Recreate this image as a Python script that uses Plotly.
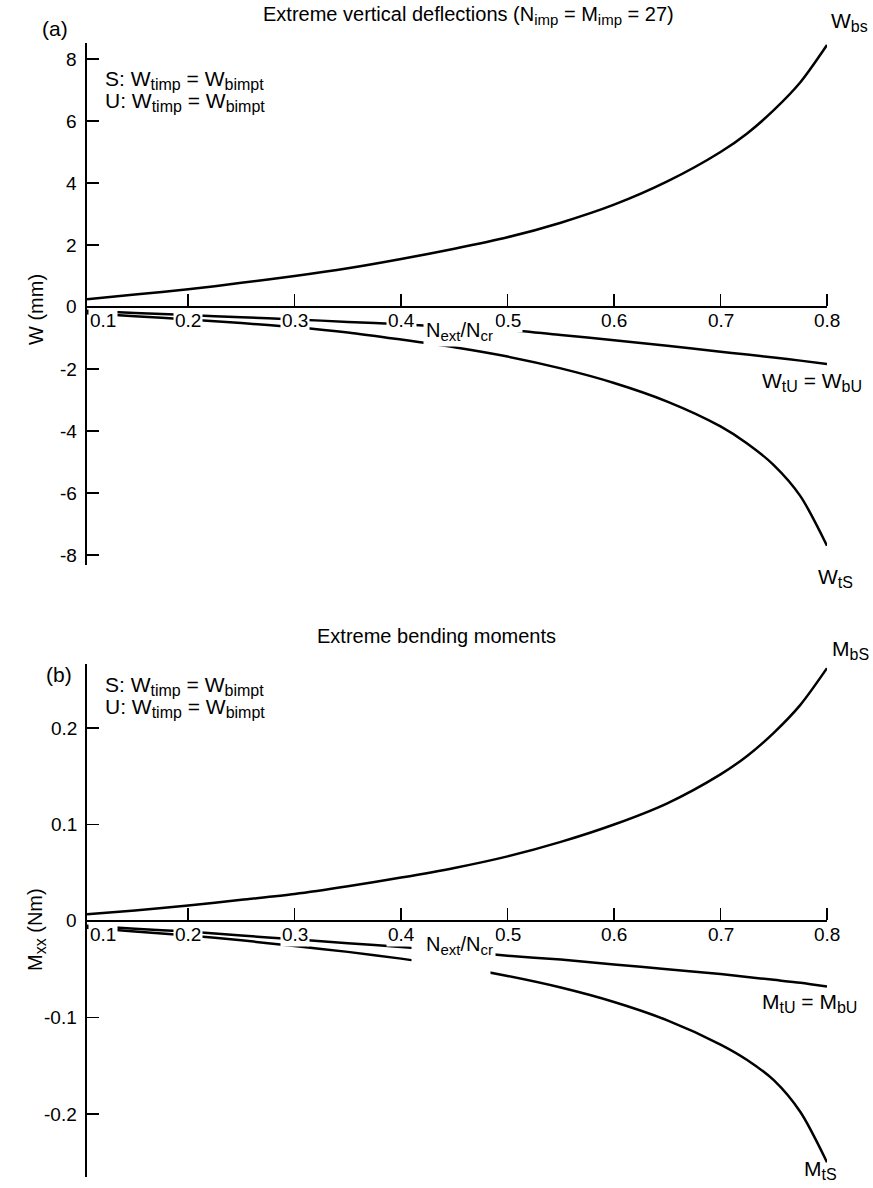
import plotly.graph_objects as go

W, H = 873, 1188

# ---------------- data ----------------
n_ratio = [0.105, 0.15, 0.2, 0.25, 0.3, 0.35, 0.4, 0.45, 0.5, 0.55, 0.6, 0.65, 0.7, 0.725, 0.75, 0.775, 0.8]

w_bS = [0.25, 0.40, 0.57, 0.78, 1.0, 1.25, 1.55, 1.88, 2.25, 2.72, 3.3, 4.05, 5.0, 5.6, 6.35, 7.25, 8.45]
w_tS = [-0.2, -0.3, -0.4, -0.52, -0.65, -0.82, -1.05, -1.3, -1.6, -1.98, -2.45, -3.05, -3.85, -4.4, -5.1, -6.1, -7.7]
w_tU = [-0.12, -0.19, -0.26, -0.33, -0.4, -0.48, -0.56, -0.65, -0.74, -0.9, -1.07, -1.25, -1.44, -1.535, -1.63, -1.73, -1.84]

m_bS = [0.007, 0.011, 0.016, 0.022, 0.028, 0.036, 0.045, 0.055, 0.067, 0.082, 0.100, 0.122, 0.152, 0.171, 0.195, 0.224, 0.262]
m_tU = [-0.005, -0.008, -0.011, -0.015, -0.019, -0.023, -0.027, -0.031, -0.036, -0.040, -0.045, -0.050, -0.055, -0.058, -0.061, -0.064, -0.068]
m_tS = [-0.007, -0.011, -0.015, -0.02, -0.026, -0.032, -0.039, -0.047, -0.057, -0.069, -0.084, -0.103, -0.128, -0.144, -0.165, -0.198, -0.25]

x_ticks = [0.1, 0.2, 0.3, 0.4, 0.5, 0.6, 0.7, 0.8]
x_ticktext = ["0.1", "0.2", "0.3", "0.4", "0.5", "0.6", "0.7", "0.8"]
wa_ticks = [-8, -6, -4, -2, 0, 2, 4, 6, 8]
wa_ticktext = ["-8", "-6", "-4", "-2", "0", "2", "4", "6", "8"]
mb_ticks = [-0.2, -0.1, 0, 0.1, 0.2]
mb_ticktext = ["-0.2", "-0.1", "0", "0.1", "0.2"]

FONT = "Liberation Sans, Arial, Helvetica, sans-serif"
FS = 19


def px(x):
    return x / W


def py(y):
    return 1 - y / H


def sub(t, size):
    return '<sub><span style="font-size:%dpx">%s</span></sub>' % (size, t)


fig = go.Figure()
line = dict(color="black", width=2.5, shape="spline", smoothing=0.8)
for ys in (w_bS, w_tS, w_tU):
    fig.add_trace(go.Scatter(x=n_ratio, y=ys, mode="lines", line=line,
                             xaxis="x", yaxis="y", showlegend=False, hoverinfo="skip"))
for ys in (m_bS, m_tU, m_tS):
    fig.add_trace(go.Scatter(x=n_ratio, y=ys, mode="lines", line=line,
                             xaxis="x2", yaxis="y2", showlegend=False, hoverinfo="skip"))

# axis geometry (pixels)
x_left, x_right = 87, 827
a_top, a_bot, a_zero, a_scale = 43, 565, 307, 31.0     # px per unit
b_top, b_bot, b_zero, b_scale = 664, 1177, 921, 965.0  # px per unit

xr = [0.105, 0.8]
common_x = dict(range=xr, domain=[px(x_left), px(x_right)], anchor="free", side="top",
                showline=True, linecolor="black", linewidth=2,
                ticks="outside", ticklen=12, tickwidth=1.5, tickcolor="black",
                tickvals=x_ticks[1:], showticklabels=False,
                showgrid=False, zeroline=False, fixedrange=True)
common_y = dict(showline=True, linecolor="black", linewidth=2,
                ticks="inside", ticklen=12, tickwidth=1.5, tickcolor="black",
                showgrid=False, zeroline=False, fixedrange=True,
                showticklabels=False)

fig.update_layout(
    width=W, height=H,
    margin=dict(l=0, r=0, t=0, b=0),
    paper_bgcolor="white", plot_bgcolor="rgba(0,0,0,0)",
    font=dict(family=FONT, size=FS, color="black"),
    xaxis=dict(**common_x, position=py(a_zero)),
    yaxis=dict(**common_y, anchor="x",
               domain=[py(a_bot), py(a_top)],
               range=[(a_zero - a_bot) / a_scale, (a_zero - a_top) / a_scale],
               tickvals=wa_ticks),
    xaxis2=dict(**common_x, position=py(b_zero)),
    yaxis2=dict(**common_y, anchor="x2",
                domain=[py(b_bot), py(b_top)],
                range=[(b_zero - b_bot) / b_scale, (b_zero - b_top) / b_scale],
                tickvals=mb_ticks),
)

ann = []


def label(text, x, y, xanchor="left", size=FS, **kw):
    ann.append(dict(text=text, x=px(x), y=py(y), xref="paper", yref="paper",
                    xanchor=xanchor, yanchor="middle", showarrow=False,
                    font=dict(family=FONT, size=size, color="black"), **kw))


# y tick labels, right-aligned just left of the y axis
for yref_, vals, texts in (("y", wa_ticks, wa_ticktext), ("y2", mb_ticks, mb_ticktext)):
    for v, t in zip(vals, texts):
        ann.append(dict(text=t, x=px(x_left - 9), y=v, xref="paper", yref=yref_,
                        xanchor="right", yanchor="middle", showarrow=False,
                        borderpad=0, yshift=1 if v == 0 else 0,
                        font=dict(family=FONT, size=FS, color="black")))

# white box that hides part of the lower curves behind the axis title in (b)
ann.append(dict(text=" ", x=0.447, y=0, xref="x2", yref="y2", xanchor="center",
                yanchor="top", yshift=-22, showarrow=False, width=78, height=34,
                bgcolor="white", borderpad=0))

# x tick labels with white background (they interrupt the curves)
for xref_, yref_ in (("x", "y"), ("x2", "y2")):
    for v, t in zip(x_ticks, x_ticktext):
        xv = max(v, xr[0])
        ann.append(dict(text=t, x=xv, y=0, xref=xref_, yref=yref_,
                        xanchor="center", yanchor="top", showarrow=False,
                        yshift=-1, xshift=16 if v < xr[0] else 0,
                        bgcolor="white", borderpad=1,
                        font=dict(family=FONT, size=FS, color="black")))

# axis titles along the zero line
for xref_, yref_ in (("x", "y"), ("x2", "y2")):
    ann.append(dict(text="N" + sub("ext", 15) + "/N" + sub("cr", 15), x=0.455, y=0,
                    xref=xref_, yref=yref_,
                    xanchor="center", yanchor="top", yshift=-9, showarrow=False,
                    bgcolor="white", borderpad=2,
                    font=dict(family=FONT, size=20, color="black")))

legend_s = "S: W" + sub("timp", 16) + " = W" + sub("bimpt", 16)
legend_u = "U: W" + sub("timp", 16) + " = W" + sub("bimpt", 16)

# panel (a)
label("Extreme vertical deflections (N" + sub("imp", 15) + " = M" + sub("imp", 15) + " = 27)",
      468, 15, "center", size=20)
label("(a)", 40, 28, size=21)
label(legend_s, 103, 80, size=21)
label(legend_u, 103, 102, size=21)
label("W" + sub("bs", 16), 829, 22, size=21)
label("W" + sub("tU", 16) + " = W" + sub("bU", 16), 760, 382, size=21)
label("W" + sub("tS", 16), 835, 578, "center", size=21)
label("W (mm)", 36, 310, "center", textangle=-90, size=20)

# panel (b)
label("Extreme bending moments", 436, 636, "center", size=20)
label("(b)", 44, 674, size=21)
label(legend_s, 103, 686, size=21)
label(legend_u, 103, 708, size=21)
label("M" + sub("bS", 16), 830, 650, size=21)
label("M" + sub("tU", 16) + " = M" + sub("bU", 16), 760, 1003, size=21)
label("M" + sub("tS", 16), 820, 1170, "center", size=21)
label("M" + sub("xx", 16) + " (Nm)", 36, 930, "center", textangle=-90, size=20)

fig.update_layout(annotations=ann)
fig.write_html(
    "out.html",
    config={"displayModeBar": False, "staticPlot": True},
    post_script="document.body.style.margin='0';document.body.style.overflow='hidden';",
)
